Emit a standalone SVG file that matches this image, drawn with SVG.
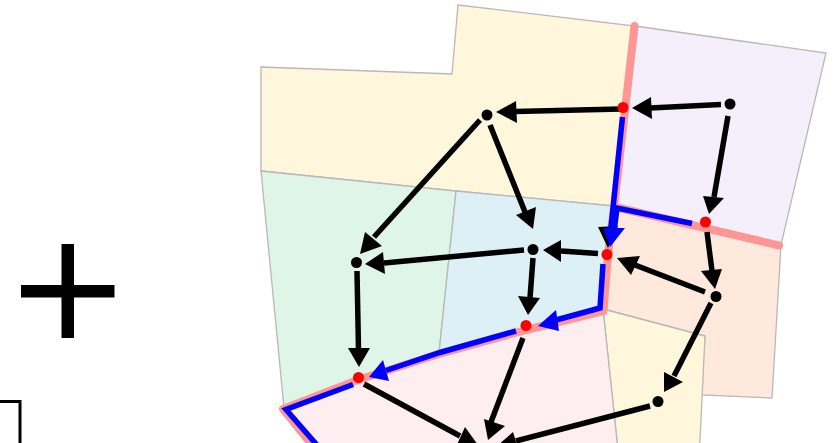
<svg xmlns="http://www.w3.org/2000/svg" width="833" height="443" viewBox="0 0 833 443">
<style>
.r{stroke:#b8b8b8;stroke-width:1.3}
.k{stroke:#000;stroke-width:5.500;fill:none}
.h{fill:#000}
.p{stroke:#ff9696;stroke-width:8;fill:none;stroke-linecap:round;stroke-linejoin:round}
.b{stroke:#0000ff;stroke-width:5.500;fill:none}
.bh{fill:#0000ff}
.n{fill:#000}
.m{fill:#ff0000}
</style>
<rect width="833" height="443" fill="#fff"/>
<g id="plus"><path d="M61.500 244H74V285H114.500V297.500H74V338H61.500V297.500H21V285H61.500Z" fill="#000"/></g>
<g id="box"><path d="M0 401.500H20V443" fill="none" stroke="#000" stroke-width="3"/></g>
<g id="regions">
<polygon id="region-yellow" class="r" fill="#fff7dc" points="261,67 452,74 458,5 635,26 614,206 456,191 261,171"/>
<polygon id="region-purple" class="r" fill="#f4effa" points="635,26 826,53 781,245 615,206"/>
<polygon id="region-peach" class="r" fill="#ffe8dc" points="615,206 781,245 772,398 701,395 705,336 603,309"/>
<polygon id="region-green" class="r" fill="#def5e8" points="261,171 456,191 439,353 359,379 284,408"/>
<polygon id="region-blue" class="r" fill="#dcf0f6" points="456,191 614,206 607,254 603,309 526,328 439,353"/>
<polygon id="region-yellow2" class="r" fill="#fff7dc" points="603,309 705,336 699,460 619,460"/>
<polygon id="region-pink" class="r" fill="#ffeef0" points="284,408 359,379 439,353 526,328 603,309 619,460 330,460"/>
</g>
<g id="connectors">
<polyline class="p" points="634.500,26 614,208 608,254 603.500,311 526,330 439,354 359,379.500 283,409 320,455"/>
<polyline class="p" points="779,245.500 615,207"/>
<path class="k" d="M621 109L515 111.500"/><polygon class="h" points="496,112 516,101 517,123"/>
<path class="k" d="M721 104.500L650 108"/><polygon class="h" points="632,108 651,97 652,119"/>
<path class="k" d="M728 116L714 197"/><polygon class="h" points="709,214 703,196 724,198"/>
<polygon class="h" points="608,248 598,227 618,226"/>
<path class="k" d="M598 253.500L561 251"/><polygon class="h" points="543,250 561,240 561,262"/>
<path class="k" d="M705 292L635 265"/><polygon class="h" points="617,258 640,256 631,275"/>
<path class="k" d="M707 232L712 271"/><polygon class="h" points="715,289 701,271 722,269"/>
<path class="k" d="M711 303L674 376"/><polygon class="h" points="664,392 664,372 683,382"/>
<path class="k" d="M490 125L525 212"/><polygon class="h" points="533,229 516,215 536,207"/>
<path class="k" d="M480 120L374 237"/><polygon class="h" points="360,254 365,232 382,246"/>
<path class="k" d="M524 250L384 263"/><polygon class="h" points="365,264 383,252 385,274"/>
<path class="k" d="M533 258L530 298"/><polygon class="h" points="528,315 518,296 540,298"/>
<path class="k" d="M357 271L358.500 350"/><polygon class="h" points="359,367 348,348 370,348"/>
<path class="k" d="M523 338L491 422"/><polygon class="h" points="488,440 484,419 505,426"/>
<path class="k" d="M650 406L516 441"/><polygon class="h" points="497,446 513,432 519,451"/>
<path class="k" d="M364 384L460 436"/><polygon class="h" points="478,445 455,449 465,427"/>
<polyline class="b" points="622.500,117 610.500,232"/>
<polyline class="b" points="692,223.500 617,208 614,232"/>
<polygon class="bh" points="610,247 603,228 625,228"/>
<polyline class="b" points="603,264 600,308 556,320"/><polygon class="bh" points="538,326 556,310 559,331"/>
<polyline class="b" points="516,331 440,352.500 386,370.500"/><polygon class="bh" points="369,377 383,360 389,381"/>
<polyline class="b" points="353,384.500 286,409.500 323,452"/>
</g>
<g id="node-1"><circle class="n" cx="730" cy="104" r="5.500"/></g>
<g id="node-2"><circle class="n" cx="487" cy="115" r="5.500"/></g>
<g id="node-3"><circle class="n" cx="356.500" cy="262.500" r="5.500"/></g>
<g id="node-4"><circle class="n" cx="533" cy="249.500" r="5.500"/></g>
<g id="node-5"><circle class="n" cx="716" cy="296.500" r="5.500"/></g>
<g id="node-6"><circle class="n" cx="658" cy="401.500" r="5.500"/></g>
<g id="node-7"><circle class="m" cx="623" cy="107.500" r="5.500"/></g>
<g id="node-8"><circle class="m" cx="705.500" cy="222" r="5.500"/></g>
<g id="node-9"><circle class="m" cx="607" cy="254.500" r="5.500"/></g>
<g id="node-10"><circle class="m" cx="526" cy="325.500" r="5.500"/></g>
<g id="node-11"><circle class="m" cx="358.500" cy="377.500" r="5.500"/></g>
</svg>
